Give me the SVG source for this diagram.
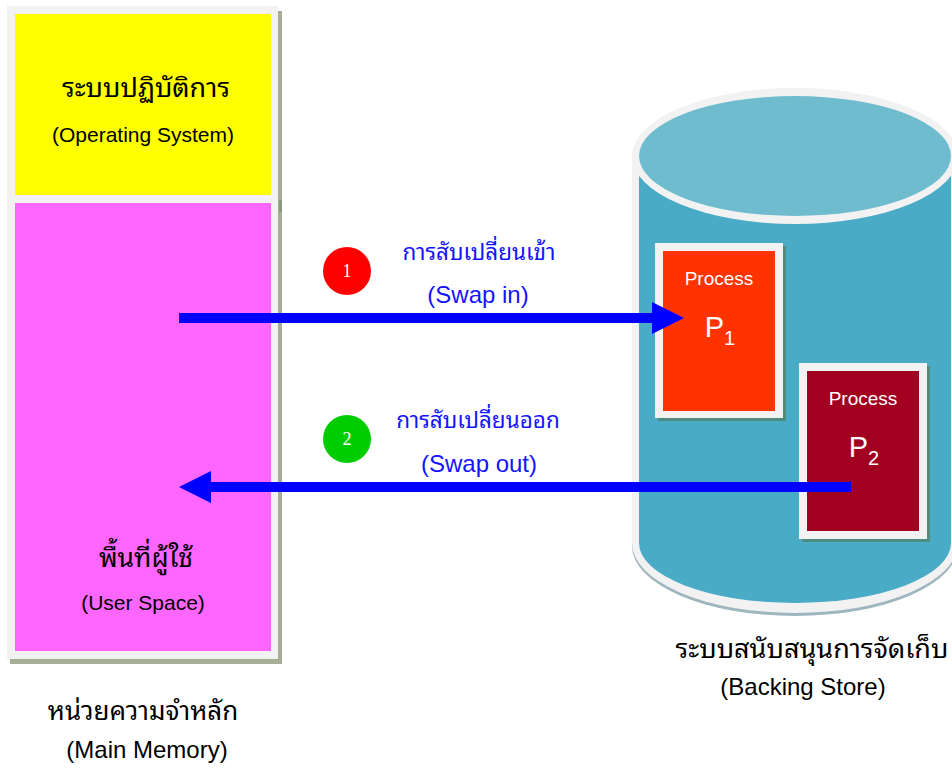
<svg xmlns="http://www.w3.org/2000/svg" width="952" height="773" viewBox="0 0 952 773">
  <style>
    .en { font-family: "Liberation Sans", Arial, sans-serif; }
    .th { font-family: "Liberation Sans", "Noto Sans Thai Looped", "Noto Serif Thai", "Loma", "Garuda", "Noto Sans Thai", sans-serif; font-weight: normal; }
    .dark { fill: #000000; }
    .blue { fill: #1414ff; }
    .white { fill: #ffffff; }
    .frame { fill: #f2f2f2; }
    .num { font-family: "Liberation Serif", "Times New Roman", serif; font-size: 18px; fill: #ffffff; text-anchor: middle; }
    text { text-anchor: middle; }
  </style>
  <defs>
    <marker id="head" viewBox="0 0 32 32" refX="0" refY="16" markerWidth="32" markerHeight="32" markerUnits="userSpaceOnUse" orient="auto">
      <path d="M0,0 L32,16 L0,32 Z" fill="#0000ff"/>
    </marker>
  </defs>

  <rect width="952" height="773" fill="#ffffff"/>

  <!-- main memory -->
  <g id="main-memory">
    <rect x="10" y="11" width="272" height="653" fill="#a6ae97"/>
    <rect x="279" y="200" width="3" height="12" fill="#8c9a7c"/>
    <rect class="frame" x="7" y="6" width="271" height="653"/>
    <g id="os">
      <rect x="15" y="14" width="256" height="181" fill="#ffff00"/>
      <text class="th dark" x="146" y="97" font-size="27">ระบบปฏิบัติการ</text>
      <text class="en dark" x="143" y="142" font-size="21">(Operating System)</text>
    </g>
    <g id="user-space">
      <rect x="15" y="203" width="256" height="448" fill="#ff66ff"/>
      <text class="th dark" x="146" y="567" font-size="26.5">พื้นที่ผู้ใช้</text>
      <text class="en dark" x="143" y="610" font-size="21">(User Space)</text>
    </g>
    <text class="th dark" x="143" y="720" font-size="26">หน่วยความจำหลัก</text>
    <text class="en dark" x="147" y="758" font-size="24">(Main Memory)</text>
  </g>

  <!-- backing store cylinder -->
  <g id="backing-store">
    <path d="M632,159 V546 A163,70 0 0 0 958,546 V159 Z" fill="#9fb6be"/>
    <path class="frame" d="M632,156 V543 A163,70 0 0 0 958,543 V156 Z"/>
    <path d="M639,156 V543 A156,60 0 0 0 951,543 V156 Z" fill="#4aabc6"/>
    <ellipse class="frame" cx="795" cy="156" rx="163" ry="68"/>
    <ellipse cx="795" cy="156" rx="156" ry="60" fill="#6fbccf"/>
    <text class="th dark" x="812" y="658" font-size="27">ระบบสนับสนุนการจัดเก็บ</text>
    <text class="en dark" x="803" y="695" font-size="24">(Backing Store)</text>
  </g>

  <g id="process-1">
    <rect x="658" y="246" width="128" height="175" fill="#4e8c80"/>
    <rect class="frame" x="655" y="243" width="128" height="175"/>
    <rect x="663" y="251" width="112" height="160" fill="#ff3300"/>
    <text class="en white" x="719" y="285" font-size="19">Process</text>
    <text class="en white" x="720" y="337"><tspan font-size="29">P</tspan><tspan font-size="20" dy="8">1</tspan></text>
  </g>

  <g id="process-2">
    <rect x="802" y="366" width="128" height="176" fill="#4e8c80"/>
    <rect class="frame" x="799" y="363" width="128" height="176"/>
    <rect x="807" y="371" width="112" height="160" fill="#a20021"/>
    <text class="en white" x="863" y="405" font-size="19">Process</text>
    <text class="en white" x="864" y="457"><tspan font-size="29">P</tspan><tspan font-size="20" dy="8">2</tspan></text>
  </g>

  <!-- step markers -->
  <g id="step-1">
    <circle cx="347" cy="271" r="24" fill="#ff0000"/>
    <text class="num" x="347" y="277">1</text>
  </g>
  <g id="step-2">
    <circle cx="347" cy="439" r="24" fill="#00cc00"/>
    <text class="num" x="347" y="445">2</text>
  </g>

  <!-- connectors -->
  <g id="connectors" stroke="#0000ff" stroke-width="10" fill="none">
    <line x1="179" y1="318" x2="652" y2="318" marker-end="url(#head)"/>
    <line x1="851" y1="487" x2="211" y2="487" marker-end="url(#head)"/>
  </g>

  <g id="connector-labels">
    <text class="th blue" x="479" y="260" font-size="22.5">การสับเปลี่ยนเข้า</text>
    <text class="en blue" x="478" y="303" font-size="24">(Swap in)</text>
    <text class="th blue" x="478" y="428" font-size="22.5">การสับเปลี่ยนออก</text>
    <text class="en blue" x="479" y="472" font-size="24">(Swap out)</text>
  </g>
</svg>
